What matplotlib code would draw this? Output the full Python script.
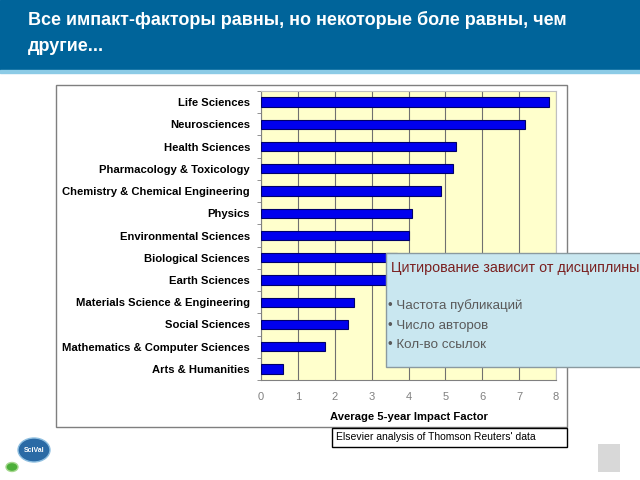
import numpy as np
import matplotlib.pyplot as plt
from matplotlib.patches import Rectangle, Circle

categories = ['Life Sciences', 'Neurosciences', 'Health Sciences',
              'Pharmacology & Toxicology', 'Chemistry & Chemical Engineering',
              'Physics', 'Environmental Sciences', 'Biological Sciences',
              'Earth Sciences', 'Materials Science & Engineering',
              'Social Sciences', 'Mathematics & Computer Sciences',
              'Arts & Humanities']
impact = [7.8, 7.15, 5.28, 5.2, 4.88, 4.09, 4.01, 3.69, 3.6, 2.52, 2.36, 1.73, 0.6]
xticks = [0, 1, 2, 3, 4, 5, 6, 7, 8]

title = 'Все импакт-факторы равны, но некоторые боле равны, чем\nдругие...'
box_title = 'Цитирование зависит от дисциплины'
box_items = ['Частота публикаций', 'Число авторов', 'Кол-во ссылок']
source = "Elsevier analysis of Thomson Reuters' data"

plt.rcParams['font.family'] = ['Liberation Sans', 'DejaVu Sans']

fig = plt.figure(figsize=(6.4, 4.8), dpi=100)
W, H = 640, 480


def fx(x):
    return x / W


def fy(y):
    return 1 - y / H


# title bar
fig.patches.append(Rectangle((0, fy(70)), 1, 70 / H, transform=fig.transFigure,
                             color='#00649a', zorder=0))
fig.patches.append(Rectangle((0, fy(73)), 1, 3 / H, transform=fig.transFigure,
                             color='#8ccbe6', zorder=0))
fig.text(fx(28), fy(33), title, color='white', fontsize=13, fontweight='bold',
         va='center', linespacing=1.65)

# chart frame
fig.patches.append(Rectangle((fx(56), fy(427)), (567 - 56) / W, (427 - 85) / H,
                             transform=fig.transFigure, facecolor='white',
                             edgecolor='#7f7f7f', lw=1, zorder=0.5))

ax = fig.add_axes([fx(261), fy(380), (556 - 261) / W, (380 - 91) / H])
ax.set_zorder(1)
ax.set_facecolor('#ffffcc')
y = np.arange(len(categories))
ax.barh(y, impact, height=0.42, color='#0000ee', edgecolor='#00006a', lw=0.8, zorder=3)
ax.set_ylim(len(categories) - 0.5, -0.5)
ax.set_xlim(0, 8)
ax.set_xticks(xticks)
ax.set_xticklabels([str(t) for t in xticks], color='#808080', fontsize=8)
ax.set_yticks(y)
ax.set_yticklabels(categories, fontsize=8.1, fontweight='bold')
ax.set_yticks(np.arange(len(categories) + 1) - 0.5, minor=True)
ax.tick_params(axis='y', which='major', length=0, pad=8)
ax.tick_params(axis='y', which='minor', length=3, color='#808080')
ax.tick_params(axis='x', length=0, pad=9)
ax.grid(axis='x', color='#707070', lw=0.8, zorder=0)
for s in ['top', 'right']:
    ax.spines[s].set_color('#c0c0c0')
for s in ['left', 'bottom']:
    ax.spines[s].set_color('#808080')
ax.set_xlabel('Average 5-year Impact Factor', fontsize=8.1, fontweight='bold', labelpad=7)

# callout box
fig.patches.append(Rectangle((fx(386), fy(367)), (660 - 386) / W, (367 - 253) / H,
                             transform=fig.transFigure, facecolor='#c9e7f0',
                             edgecolor='#8a9aa0', lw=1, zorder=5))
fig.text(fx(391), fy(268), box_title, color='#7a2020', fontsize=10.3,
         va='center', zorder=6)
for i, item in enumerate(box_items):
    fig.text(fx(388), fy(306 + i * 19.5), '• ' + item, color='#5a5a5a', fontsize=9.6,
             va='center', zorder=6)

# source box
fig.patches.append(Rectangle((fx(332), fy(447)), (567 - 332) / W, (447 - 428) / H,
                             transform=fig.transFigure, facecolor='white',
                             edgecolor='black', lw=1, zorder=5))
fig.text(fx(336), fy(437.5), source, fontsize=7.5, va='center', zorder=6)

# logos
fig.patches.append(Circle((fx(34), fy(450)), 16 / W, transform=fig.transFigure,
                          facecolor='#2a6aa5', edgecolor='#8fbfe0', lw=1, zorder=5))
fig.text(fx(34), fy(450), 'SciVal', color='white', fontsize=5, fontweight='bold',
         ha='center', va='center', zorder=6)
fig.patches.append(Circle((fx(12), fy(467)), 6 / W, transform=fig.transFigure,
                          facecolor='#4caf3a', edgecolor='#a6d88f', lw=1, zorder=6))
fig.patches.append(Rectangle((fx(598), fy(472)), 22 / W, 28 / H,
                             transform=fig.transFigure, facecolor='#d8d8d8',
                             edgecolor='none', zorder=5))

fig.savefig('out.png', dpi=100)
